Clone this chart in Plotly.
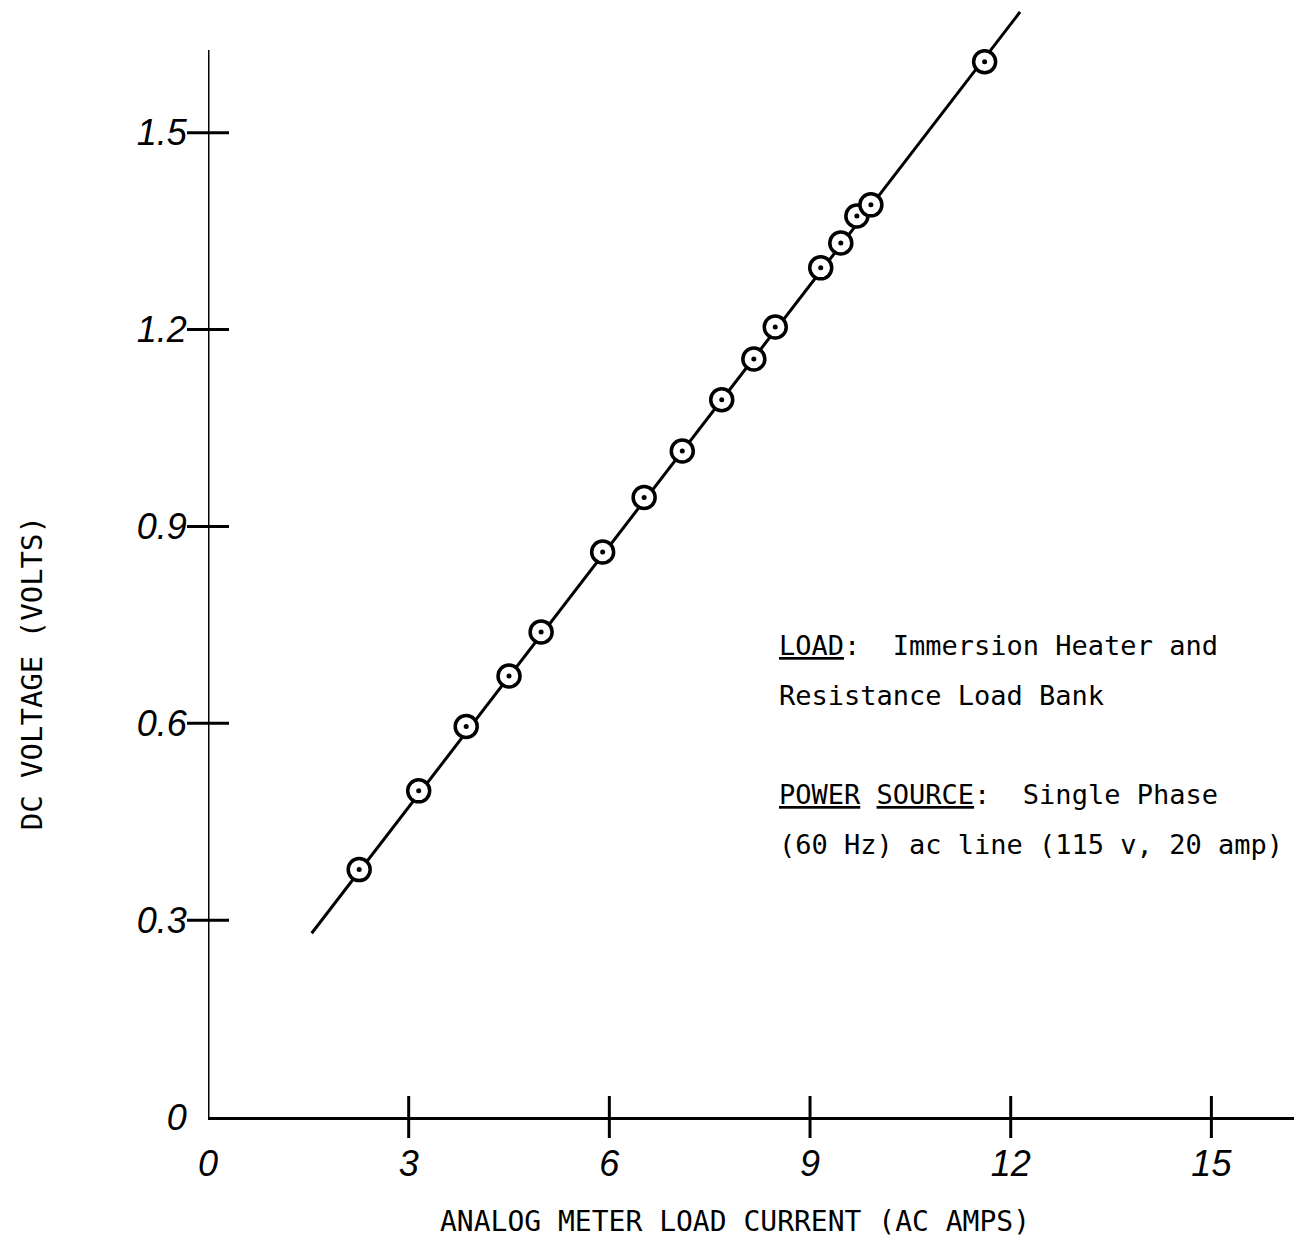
import plotly.graph_objects as go

# Measured data points (AC amps, DC volts)
current = [2.26, 3.15, 3.86, 4.50, 4.98, 5.90, 6.52, 7.09, 7.68, 8.16, 8.48, 9.16, 9.46, 9.70, 9.91, 11.61]
voltage = [0.377, 0.497, 0.595, 0.672, 0.739, 0.861, 0.944, 1.015, 1.093, 1.155, 1.204, 1.294, 1.332, 1.373, 1.390, 1.608]

# Fitted line endpoints
fit_x = [1.55, 12.14]
fit_y = [0.280, 1.684]

x_ticks = [0, 3, 6, 9, 12, 15]
x_tick_labels = ["0", "3", "6", "9", "12", "15"]
y_ticks = [0, 0.3, 0.6, 0.9, 1.2, 1.5]
y_tick_labels = ["0", "0.3", "0.6", "0.9", "1.2", "1.5"]

note_lines = [
    '<span style="text-decoration:underline">LOAD</span>:  Immersion Heater and',
    'Resistance Load Bank',
    '<span style="text-decoration:underline">POWER</span> <span style="text-decoration:underline">SOURCE</span>:  Single Phase',
    '(60 Hz) ac line (115 v, 20 amp)',
]
note_y = [0.718, 0.643, 0.491, 0.416]
note_x = 8.50

x_title = "ANALOG METER LOAD CURRENT (AC AMPS)"
y_title = "DC VOLTAGE (VOLTS)"

fig = go.Figure()

fig.add_trace(go.Scatter(x=fit_x, y=fit_y, mode="lines",
                         line=dict(color="black", width=3), showlegend=False))
fig.add_trace(go.Scatter(x=current, y=voltage, mode="markers",
                         marker=dict(symbol="circle", size=22, color="white",
                                     line=dict(color="black", width=3.5)),
                         showlegend=False))
fig.add_trace(go.Scatter(x=current, y=voltage, mode="markers",
                         marker=dict(symbol="circle", size=5, color="black"),
                         showlegend=False, hoverinfo="skip"))
# crossing tick marks
fig.add_trace(go.Scatter(x=x_ticks[1:], y=[0]*(len(x_ticks)-1), mode="markers",
                         marker=dict(symbol="line-ns", size=30, line=dict(color="black", width=3)),
                         showlegend=False, hoverinfo="skip", cliponaxis=False))
fig.add_trace(go.Scatter(x=[0]*(len(y_ticks)-1), y=y_ticks[1:], mode="markers",
                         marker=dict(symbol="line-ew", size=30, line=dict(color="black", width=3)),
                         showlegend=False, hoverinfo="skip", cliponaxis=False))

tickfont = dict(family="Liberation Sans", size=36, color="black", style="italic")

fig.update_xaxes(range=[0, 16.25], showgrid=False, zeroline=False, showline=True,
                 linecolor="black", linewidth=3, tickvals=x_ticks, ticktext=x_tick_labels,
                 ticks="outside", ticklen=1, tickcolor="rgba(0,0,0,0)", tickfont=tickfont,
                 ticklabelstandoff=12)
fig.update_yaxes(range=[0, 1.690], showgrid=False, zeroline=False, showline=False,
                 tickvals=y_ticks, ticktext=y_tick_labels,
                 ticks="outside", ticklen=1, tickcolor="rgba(0,0,0,0)", tickfont=tickfont,
                 ticklabelstandoff=12)

fig.add_shape(type="line", xref="x", yref="y", x0=0, x1=0, y0=0, y1=1.626,
              line=dict(color="black", width=3))

mono = dict(family="DejaVu Sans Mono", size=27, color="black")
for txt, yy in zip(note_lines, note_y):
    fig.add_annotation(x=note_x, y=yy, xref="x", yref="y", text=txt, showarrow=False,
                       xanchor="left", yanchor="middle", font=mono)

fig.add_annotation(x=0.485, y=-0.094, xref="paper", yref="paper", text=x_title,
                   showarrow=False, xanchor="center", yanchor="middle",
                   font=dict(family="DejaVu Sans Mono", size=28, color="black"))
fig.add_annotation(x=-0.162, y=0.40, xref="paper", yref="paper", text=y_title,
                   showarrow=False, xanchor="center", yanchor="middle", textangle=-90,
                   font=dict(family="DejaVu Sans Mono", size=29, color="black"))

fig.update_layout(width=1294, height=1243, margin=dict(l=200, r=7, t=0, b=134),
                  plot_bgcolor="white", paper_bgcolor="white", showlegend=False)

fig.write_html("out.html")
